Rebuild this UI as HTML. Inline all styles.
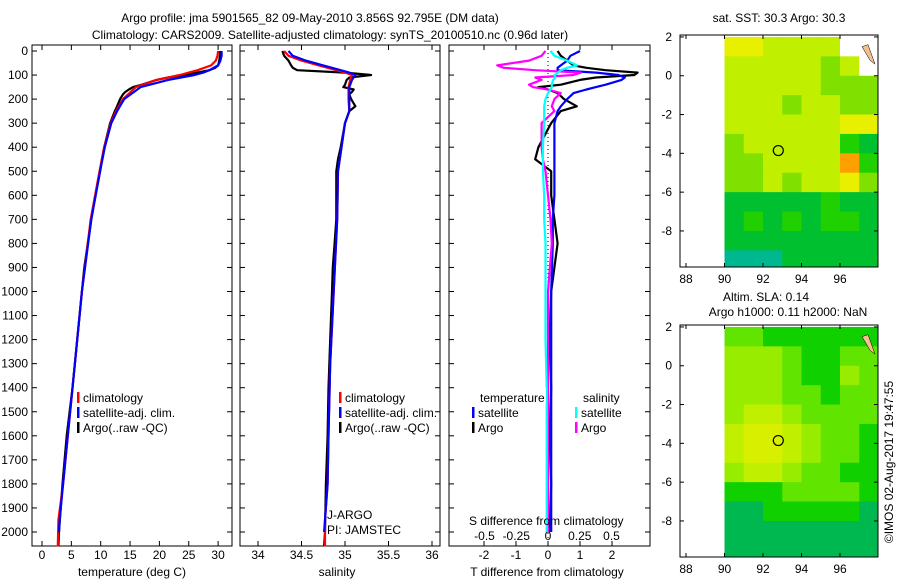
<!DOCTYPE html>
<html><head><meta charset="utf-8">
<style>
html,body{margin:0;padding:0;background:#fff;}
svg{display:block;font-family:"Liberation Sans",Arial,sans-serif;}
text{fill:#000;font-size:12px;}
</style></head>
<body>
<svg id="chart" width="900" height="580" viewBox="0 0 900 580" xmlns="http://www.w3.org/2000/svg">
<text x="310" y="22" text-anchor="middle" font-size="13">Argo profile: jma 5901565_82 09-May-2010 3.856S 92.795E (DM data)</text>
<text x="330" y="39" text-anchor="middle" font-size="13">Climatology: CARS2009. Satellite-adjusted climatology: synTS_20100510.nc (0.96d later)</text>
<g id="p1"></g>
<g id="p2"></g>
<g id="p3"></g>
<g id="m1"></g>
<g id="m2"></g>
<text x="779" y="22" text-anchor="middle">sat. SST: 30.3 Argo: 30.3</text>
<text x="766" y="301" text-anchor="middle">Altim. SLA: 0.14</text>
<text x="788" y="316" text-anchor="middle">Argo h1000: 0.11 h2000: NaN</text>
<text transform="translate(893,462) rotate(-90)" text-anchor="middle">©IMOS 02-Aug-2017 19:47:55</text>
</svg>
<script>
// ---- data ----
const depthTicks = [0,100,200,300,400,500,600,700,800,900,1000,1100,1200,1300,1400,1500,1600,1700,1800,1900,2000];
const tempTicks = [0,5,10,15,20,25,30];
const salTicks = [34,34.5,35,35.5,36];
const tdiffTicks = [-2,-1,0,1,2];
const sdiffTicks = [-0.5,-0.25,0,0.25,0.5];
const sdiffLabels = ["-0.5","-0.25","0","0.25","0.5"];

const argoDepth = [0,20,40,60,70,80,90,100,110,120,140,150,160,170,180,200,230,250,300,400,450,500,600,700,800,900,1000,1200,1400,1600,1800,2000,2060];
const argoTemp  = [30.3,30.3,30.2,30.0,29.5,28.5,26.5,24.5,21.5,19.5,17.0,15.5,14.8,14.2,13.8,13.3,12.8,12.4,11.6,10.6,10.2,9.9,9.1,8.4,7.8,7.2,6.8,6.0,5.2,4.2,3.5,2.9,2.8];
const argoSal   = [34.28,34.3,34.35,34.38,34.4,34.45,35.0,35.3,35.05,35.02,35.0,34.98,35.1,35.08,35.05,35.07,35.12,35.05,35.0,34.95,34.92,34.9,34.9,34.9,34.88,34.86,34.85,34.83,34.81,34.8,34.78,34.77,34.76];

const climDepth = [0,20,40,60,80,90,100,120,150,200,250,300,400,500,700,1000,1300,1600,1800,1950,2060];
const climTemp  = [30.0,29.9,29.6,28.8,26.5,25.0,23.5,19.5,16.0,13.8,12.6,11.7,10.6,9.8,8.3,6.8,5.6,4.4,3.6,2.8,2.7];
const climSal   = [34.3,34.35,34.5,34.7,34.9,35.0,35.08,35.06,35.04,35.04,35.05,35.0,34.96,34.92,34.91,34.87,34.83,34.81,34.8,34.77,34.77];

const satDepth = [0,20,40,60,80,90,100,120,150,200,250,300,400,500,700,1000,1300,1600,1800,1950,2000];
const satTemp  = [30.6,30.6,30.4,30.0,28.5,27.5,26.0,21.5,16.8,14.0,12.8,11.8,10.7,9.9,8.4,6.8,5.6,4.4,3.6,3.0,2.9];
const satSal   = [34.35,34.4,34.55,34.75,34.95,35.05,35.12,35.08,35.05,35.05,35.05,35.0,34.96,34.92,34.91,34.87,34.83,34.81,34.8,34.77,34.76];

const dDepth    = [0,20,40,60,70,80,90,100,110,120,140,150,160,175,200,230,250,300,400,450,500,600,700,800,1000,1200,1400,1600,1800,2000];
const tDiffSat  = [1.0,0.7,0.6,0.4,0.3,0.3,1.5,2.2,2.4,2.3,1.8,1.5,1.2,0.8,0.6,0.4,0.3,0.2,0.2,0.2,0.2,0.2,0.15,0.15,0.1,0.1,0.1,0.1,0.1,0.1];
const tDiffArgo = [0.3,0.4,0.6,0.8,1.2,1.8,2.8,2.7,1.5,1.0,0.4,-0.3,0.0,0.3,0.5,0.9,0.4,0.1,-0.3,-0.4,0.1,0.1,0.2,0.3,0.1,0.05,0.1,0.05,0.1,0.05];
const sDiffSat  = [0.02,0.05,0.15,0.23,0.15,0.1,0.08,0.05,0.06,0.04,0.03,0.03,0.02,0.0,-0.02,-0.03,-0.03,-0.03,-0.04,-0.04,-0.04,-0.03,-0.03,-0.02,-0.02,-0.02,-0.01,-0.01,-0.01,-0.01];
const sDiffArgo = [-0.02,-0.05,-0.15,-0.4,-0.35,-0.1,0.26,0.2,-0.1,-0.05,-0.15,-0.12,0.0,0.1,0.05,0.03,0.05,-0.05,-0.05,-0.04,-0.02,0.0,0.02,0.03,0.0,0.0,0.0,0.0,0.0,0.0];

const mapLonTicks = [88,90,92,94,96];
const mapLatTicks = [2,0,-2,-4,-6,-8];
const sstRows = ["554444ww","4444434w","44444333","44434433","44444455","34444421","33444462","33434453","11111211","12121221","11111111","00011111"];
const slaRows = ["33222222","44432233","44432243","44433233","45543333","56654332","56654332","45543322","22233332","11222221","11111111","11111111"];
const argoLon = 92.795, argoLat = -3.856;

// ---- helpers ----
const NS = "http://www.w3.org/2000/svg";
function mk(parent, tag, attrs, txt){const e=document.createElementNS(NS,tag);for(const k in attrs)e.setAttribute(k,attrs[k]);if(txt!==undefined)e.textContent=txt;parent.appendChild(e);return e;}
const yTop=51, yScale=0.2405, frameTop=45, frameBot=546;
const yD = d => yTop + d*yScale;

function frame(g,x0,x1){
  const r=mk(g,'rect',{x:x0,y:frameTop,width:x1-x0,height:frameBot-frameTop,fill:'none',stroke:'#000','stroke-width':1});
  
  
  depthTicks.forEach(d=>{
    mk(g,'line',{x1:x0,x2:x0+5,y1:yD(d),y2:yD(d),stroke:'#000'});
    mk(g,'line',{x1:x1-5,x2:x1,y1:yD(d),y2:yD(d),stroke:'#000'});
  });
}
function xticks(g,xs,labels,fx,y){
  xs.forEach((v,i)=>{
    const x=fx(v);
    mk(g,'line',{x1:x,x2:x,y1:frameTop,y2:frameTop+5,stroke:'#000'});
    mk(g,'line',{x1:x,x2:x,y1:frameBot-5,y2:frameBot,stroke:'#000'});
    const t=mk(g,'text',{x:x,y:y,'text-anchor':'middle'},labels[i]);
    
    
  });
}
function line(g,xs,ds,fx,color,name){
  const pts=xs.map((v,i)=>fx(v).toFixed(1)+','+yD(ds[i]).toFixed(1)).join(' ');
  const p=mk(g,'polyline',{points:pts,fill:'none',stroke:color,'stroke-width':2.2,'stroke-linejoin':'round'});
  
  
}
function legendItem(g,x,y,color,label){
  mk(g,'rect',{x:x,y:y-10,width:2.5,height:11,fill:color});
  const t=mk(g,'text',{x:x+6,y:y},label);
  
  
}

// ---- panel 1 ----
const p1=document.getElementById('p1');
const fxT = v => 42 + v*5.87;
frame(p1,32,232);
depthTicks.forEach(d=>{const t=mk(p1,'text',{x:28,y:yD(d)+4,'text-anchor':'end'},String(d));
  
  });
xticks(p1,tempTicks,tempTicks.map(String),fxT,559);
line(p1,argoTemp,argoDepth,fxT,'#000','argo-temperature-line');
line(p1,climTemp,climDepth,fxT,'#f00','clim-temperature-line');
line(p1,satTemp,satDepth,fxT,'#00f','sat-temperature-line');
legendItem(p1,77,402,'#f00','climatology');
legendItem(p1,77,417,'#00f','satellite-adj. clim.');
legendItem(p1,77,432,'#000','Argo(..raw -QC)');
{const t=mk(p1,'text',{x:132,y:576,'text-anchor':'middle'},'temperature (deg C)');
}

// ---- panel 2 ----
const p2=document.getElementById('p2');
const fxS = v => 258 + (v-34)*87;
frame(p2,240,440);
xticks(p2,salTicks,salTicks.map(String),fxS,559);
line(p2,argoSal,argoDepth,fxS,'#000','argo-salinity-line');
line(p2,climSal,climDepth,fxS,'#f00','clim-salinity-line');
line(p2,satSal,satDepth,fxS,'#00f','sat-salinity-line');
legendItem(p2,339,402,'#f00','climatology');
legendItem(p2,339,417,'#00f','satellite-adj. clim.');
legendItem(p2,339,432,'#000','Argo(..raw -QC)');
mk(p2,'text',{x:327,y:519},'J-ARGO');
mk(p2,'text',{x:327,y:534},'PI: JAMSTEC');
{const t=mk(p2,'text',{x:337,y:576,'text-anchor':'middle'},'salinity');
}

// ---- panel 3 ----
const p3=document.getElementById('p3');
const fxTD = v => 548 + v*32;
const fxSD = v => 548 + v*127;
frame(p3,449,650);
mk(p3,'line',{x1:548,x2:548,y1:frameTop,y2:frameBot,stroke:'#000','stroke-dasharray':'1,3'});
xticks(p3,tdiffTicks,tdiffTicks.map(String),fxTD,559);
sdiffTicks.forEach((v,i)=>{const t=mk(p3,'text',{x:fxSD(v),y:540,'text-anchor':'middle'},sdiffLabels[i]);
  });
line(p3,tDiffArgo,dDepth,fxTD,'#000','argo-t-diff-line');
line(p3,tDiffSat,dDepth,fxTD,'#00f','sat-t-diff-line');
line(p3,sDiffArgo,dDepth,fxSD,'#f0f','argo-s-diff-line');
line(p3,sDiffSat,dDepth,fxSD,'#0ff','sat-s-diff-line');
mk(p3,'rect',{x:478,y:388,width:68,height:14,fill:'#fff'});
mk(p3,'text',{x:480,y:402},'temperature');
mk(p3,'text',{x:583,y:402},'salinity');
legendItem(p3,472,417,'#00f','satellite');
legendItem(p3,472,432,'#000','Argo');
legendItem(p3,575,417,'#0ff','satellite');
legendItem(p3,575,432,'#f0f','Argo');
mk(p3,'text',{x:469,y:525},'S difference from climatology');
{const t=mk(p3,'text',{x:547,y:576,'text-anchor':'middle'},'T difference from climatology');
}

// ---- maps ----
const sstColors={'0':'#00b890','1':'#00c030','2':'#20d000','3':'#80e000','4':'#c0f000','5':'#e8f000','6':'#ffa000','w':'#ffffff','r':'#a00000'};
const slaColors={'1':'#00b850','2':'#10d000','3':'#60e400','4':'#98ec00','5':'#c0f000','6':'#d8f000','w':'#ffffff'};
function drawMap(g,top,rows,colors,name){
  const x0=680,x1=878,bot=top+232;
  const fxL = lon => 686 + (lon-88)*19.25;
  const latTop = 2.1;
  const fyL = lat => top + (latTop-lat)*19.4;
  rows.forEach((row,ri)=>{
    for(let ci=0;ci<row.length;ci++){
      const lon=90+ci, lat=2-ri;
      const xa=fxL(lon), xb=Math.min(fxL(lon+1),x1);
      const ya=Math.max(fyL(lat),top), yb=Math.min(fyL(lat-1),bot);
      const c=mk(g,'rect',{x:xa,y:ya,width:xb-xa+0.5,height:yb-ya+0.5,fill:colors[row[ci]]});
      
      
    }
    if(ri===0){const x=fxL(90),y=top;mk(g,'rect',{x:x,y:y,width:fxL(lon=90)-x,height:0,fill:'none'});}
  });
  // top cap (lat 2.1 to 2)
  const r=mk(g,'rect',{x:x0,y:top,width:x1-x0,height:bot-top,fill:'none',stroke:'#000'});
  
  
  mapLonTicks.forEach(lon=>{const x=fxL(lon);
    mk(g,'line',{x1:x,x2:x,y1:top,y2:top+4,stroke:'#000'});
    mk(g,'line',{x1:x,x2:x,y1:bot-4,y2:bot,stroke:'#000'});
    const t=mk(g,'text',{x:x,y:bot+16,'text-anchor':'middle'},String(lon));
    });
  mapLatTicks.forEach(lat=>{const y=fyL(lat);
    mk(g,'line',{x1:x0,x2:x0+4,y1:y,y2:y,stroke:'#000'});
    mk(g,'line',{x1:x1-4,x2:x1,y1:y,y2:y,stroke:'#000'});
    const t=mk(g,'text',{x:672,y:y+4,'text-anchor':'end'},String(lat));
    });
  const c=mk(g,'circle',{cx:fxL(argoLon),cy:fyL(argoLat),r:5,fill:'none',stroke:'#000','stroke-width':1.2});
  
  
  // land patch
  mk(g,'polygon',{points:`${x1-16},${fyL(1.5)} ${x1-10},${fyL(1.6)} ${x1-3},${fyL(0.6)} ${x1-8},${fyL(0.8)}`,fill:'#f5c090',stroke:'#000','stroke-width':0.5});
}
drawMap(document.getElementById('m1'),35,sstRows,sstColors,'sst-map');
drawMap(document.getElementById('m2'),325,slaRows,slaColors,'sla-map');
</script>
</body></html>
